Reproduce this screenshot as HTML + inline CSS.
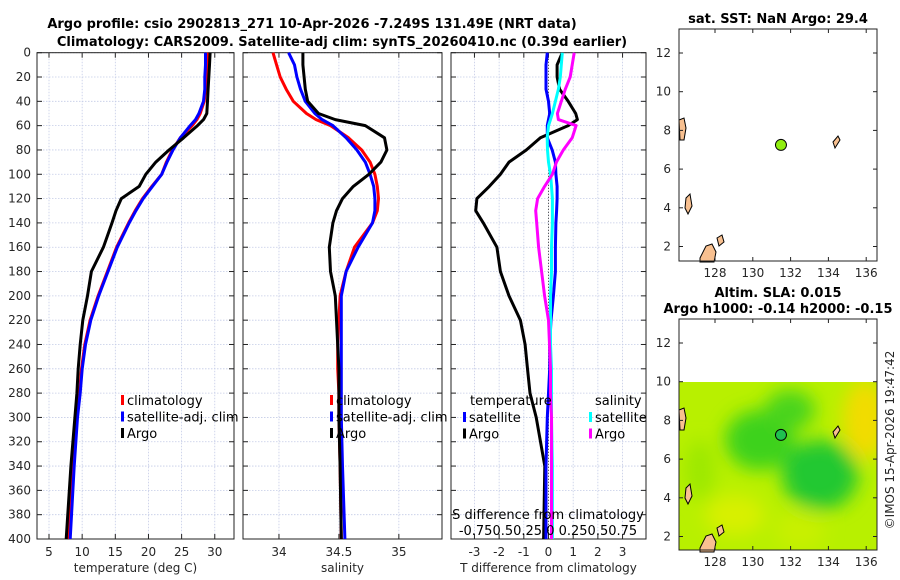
<!DOCTYPE html>
<html><head><meta charset="utf-8"><style>
html,body{margin:0;padding:0;background:#fff;}
svg{display:block;font-family:"DejaVu Sans","Liberation Sans",sans-serif;}
.tk{font-size:12px;fill:#262626;}
.tt{font-size:13px;font-weight:bold;fill:#000;}
.lg{font-size:13px;fill:#000;}
</style></head><body>
<svg id="fig" width="900" height="580" viewBox="0 0 900 580">
<defs>
<filter id="blur" x="-50%" y="-50%" width="200%" height="200%"><feGaussianBlur stdDeviation="9"/></filter>
<clipPath id="mapclip2"><rect x="679" y="382" width="198" height="168"/></clipPath>
</defs>
<text class="tt" x="312" y="28" text-anchor="middle">Argo profile: csio 2902813_271 10-Apr-2026 -7.249S 131.49E (NRT data)</text>
<text class="tt" x="342" y="46" text-anchor="middle">Climatology: CARS2009. Satellite-adj clim: synTS_20260410.nc (0.39d earlier)</text>
<g id="panels"></g>
<g id="maps"></g>
<text class="tk" transform="translate(894,440) rotate(-90)" text-anchor="middle">©IMOS 15-Apr-2026 19:47:42</text>
</svg>
<script>
const depths = [0,10,20,30,40,50,55,60,70,80,90,100,110,120,130,140,160,180,200,220,240,260,280,300,340,400];
const tempArgo = [29.3,29.2,29.1,29.0,28.9,28.8,28.3,27.4,25.3,23.1,21.1,19.6,18.6,15.9,15.1,14.5,13.2,11.4,10.8,10.1,9.7,9.4,9.2,8.9,8.3,7.6];
const tempClim = [28.9,28.8,28.7,28.6,28.4,27.8,27.3,26.6,24.8,23.6,22.7,22.0,20.5,19.1,18.0,17.0,15.2,13.8,12.4,11.2,10.4,9.9,9.6,9.2,8.6,8.0];
const tempSat = [28.6,28.6,28.5,28.5,28.3,27.6,27.1,26.3,24.8,23.7,22.8,22.0,20.6,19.2,18.1,17.1,15.3,13.9,12.5,11.3,10.5,10.0,9.7,9.3,8.8,8.2];
const salClim = [33.95,33.98,34.01,34.06,34.12,34.23,34.31,34.43,34.58,34.69,34.76,34.80,34.82,34.83,34.82,34.78,34.63,34.56,34.51,34.50,34.49,34.49,34.50,34.50,34.51,34.52];
const salSat = [34.08,34.13,34.15,34.18,34.22,34.30,34.36,34.45,34.56,34.65,34.72,34.76,34.79,34.80,34.80,34.78,34.66,34.56,34.52,34.52,34.52,34.52,34.52,34.52,34.53,34.55];
const salArgo = [34.2,34.2,34.21,34.22,34.24,34.33,34.47,34.72,34.88,34.9,34.85,34.75,34.62,34.53,34.48,34.45,34.42,34.43,34.47,34.48,34.49,34.5,34.5,34.5,34.51,34.52];
const dTArgo = [0.56,0.35,0.35,0.45,0.8,1.1,1.17,0.8,-0.33,-0.9,-1.6,-1.95,-2.4,-2.9,-2.95,-2.64,-2.09,-1.95,-1.6,-1.14,-0.95,-0.85,-0.75,-0.5,-0.15,-0.2];
const dTSat = [-0.05,-0.1,-0.1,-0.1,0.0,0.05,0.0,-0.05,-0.05,0.15,0.28,0.3,0.35,0.35,0.33,0.3,0.28,0.28,0.2,0.1,0.05,0.05,0.0,-0.05,-0.1,-0.1];
const dSSat = [0.14,0.13,0.12,0.1,0.07,0.04,0.02,0.0,-0.013,-0.01,0.0,0.02,0.03,0.04,0.04,0.04,0.03,0.03,0.02,0.02,0.02,0.03,0.03,0.03,0.04,0.04];
const dSArgo = [0.26,0.24,0.22,0.17,0.13,0.09,0.1,0.28,0.24,0.15,0.08,0.04,-0.04,-0.11,-0.13,-0.12,-0.1,-0.07,-0.04,0.0,0.01,0.02,0.02,0.03,0.03,0.03];
const depthTicks = [0,20,40,60,80,100,120,140,160,180,200,220,240,260,280,300,320,340,360,380,400];
const tempTicks = [5,10,15,20,25,30];
const salTicks = [34,34.5,35];
const dTTicks = [-3,-2,-1,0,1,2,3];
const latTicks = [2,4,6,8,10,12];
const lonTicks = [128,130,132,134,136];
const argoPos = [131.49, 7.249];

const NS='http://www.w3.org/2000/svg';
function mk(tag, attrs, parent, text){const e=document.createElementNS(NS,tag);for(const k in attrs)e.setAttribute(k,attrs[k]);if(text!==undefined)e.textContent=text;parent.appendChild(e);return e;}
const panels=document.getElementById('panels');
const Y0=52.7, Y1=539;
const yD=d=>Y0+(d/400)*(Y1-Y0);

function panel(name,x0,x1,vmin,vmax,xticks,xlab){
  const g=mk('g',{},panels);
  
  
  const sx=v=>x0+(v-vmin)/(vmax-vmin)*(x1-x0);
  xticks.forEach(v=>{
    const l=mk('line',{x1:sx(v),x2:sx(v),y1:Y0,y2:Y1,stroke:'#c4cbe6','stroke-width':0.8,'stroke-dasharray':'1.5,1.5'},g);
    
    
    mk('line',{x1:sx(v),x2:sx(v),y1:Y1,y2:Y1-5,stroke:'#222'},g);
    mk('line',{x1:sx(v),x2:sx(v),y1:Y0,y2:Y0+5,stroke:'#222'},g);
    const t=mk('text',{x:sx(v),y:556,'text-anchor':'middle',class:'tk'},g,String(v));
    
    
  });
  depthTicks.forEach(d=>{
    const l=mk('line',{x1:x0,x2:x1,y1:yD(d),y2:yD(d),stroke:'#c4cbe6','stroke-width':0.8,'stroke-dasharray':'1.5,1.5'},g);
    
    
    mk('line',{x1:x0,x2:x0+5,y1:yD(d),y2:yD(d),stroke:'#222'},g);
    mk('line',{x1:x1,x2:x1-5,y1:yD(d),y2:yD(d),stroke:'#222'},g);
    if(name==='temperature-panel'){
      const t=mk('text',{x:31,y:yD(d)+4,'text-anchor':'end',class:'tk'},g,String(d));
      
      
    }
  });
  const fr=mk('rect',{x:x0,y:Y0,width:x1-x0,height:Y1-Y0,fill:'none',stroke:'#222','stroke-width':1},g);
  
  
  if(xlab){const t=mk('text',{x:(x0+x1)/2,y:572,'text-anchor':'middle',class:'tk','font-size':'13'},g,xlab);
    
    }
  return {g,sx};
}
function line(p,sx,vals,color,name,w,dash){
  const pts=vals.map((v,i)=>sx(v).toFixed(1)+','+yD(depths[i]).toFixed(1)).join(' ');
  const a={points:pts,fill:'none',stroke:color,'stroke-width':w||3,'stroke-linejoin':'round'};
  if(dash)a['stroke-dasharray']=dash;
  const e=mk('polyline',a,p);
  
  
}
function legend(g,x,y,items){
  items.forEach((it,i)=>{
    mk('rect',{x:x,y:y+i*16.5-10,width:3,height:10,fill:it[0]},g);
    const t=mk('text',{x:x+6,y:y+i*16.5,class:'lg'},g,it[1]);
    
    
  });
}
const P1=panel('temperature-panel',37,234,3.19,32.9,tempTicks,'temperature (deg C)');
line(P1.g,P1.sx,tempClim,'#ff0000','temp-climatology-line');
line(P1.g,P1.sx,tempSat,'#0000ff','temp-satellite-line');
line(P1.g,P1.sx,tempArgo,'#000000','temp-argo-line');
legend(P1.g,121,405,[['#f00','climatology'],['#00f','satellite-adj. clim'],['#000','Argo']]);
const P2=panel('salinity-panel',243,442,33.7,35.36,salTicks,'salinity');
line(P2.g,P2.sx,salClim,'#ff0000','sal-climatology-line');
line(P2.g,P2.sx,salSat,'#0000ff','sal-satellite-line');
line(P2.g,P2.sx,salArgo,'#000000','sal-argo-line');
legend(P2.g,330,405,[['#f00','climatology'],['#00f','satellite-adj. clim'],['#000','Argo']]);
const P3=panel('difference-panel',451,646,-3.95,3.95,dTTicks,'T difference from climatology');
const sS=v=>P3.sx(v*4);
const zl=mk('line',{x1:P3.sx(0),x2:P3.sx(0),y1:Y0,y2:Y1,stroke:'#333','stroke-width':1,'stroke-dasharray':'1,2'},P3.g);


line(P3.g,P3.sx,dTArgo,'#000000','dT-argo-line');
line(P3.g,P3.sx,dTSat,'#0000ff','dT-satellite-line');
line(P3.g,sS,dSSat,'#00ffff','dS-satellite-line');
line(P3.g,sS,dSArgo,'#ff00ff','dS-argo-line');
let t=mk('text',{x:470,y:405,class:'lg'},P3.g,'temperature');


t=mk('text',{x:595,y:405,class:'lg'},P3.g,'salinity');


legend(P3.g,463,422,[['#00f','satellite'],['#000','Argo']]);
legend(P3.g,589,422,[['#0ff','satellite'],['#f0f','Argo']]);
t=mk('text',{x:548,y:519,'text-anchor':'middle',class:'lg'},P3.g,'S difference from climatology');


t=mk('text',{x:548,y:535,'text-anchor':'middle',class:'lg'},P3.g,'-0.750.50.25 0  0.250.50.75');



const maps=document.getElementById('maps');
const lonX=l=>715+(l-128)*18.9;
function islands(){
  return [
    'M679,120 L684,118 L686,128 L684,140 L680,140 Z',
    'M686,198 L690,194 L692,206 L688,214 L685,208 Z',
    'M700,258 L706,246 L712,244 L716,252 L714,262 L700,262 Z',
    'M717,238 L722,235 L724,242 L719,246 Z',
    'M833,142 L838,136 L840,140 L835,148 Z'];
}
function drawMap(name,lat12,title,titleY){
  const g=mk('g',{},maps);
  
  
  const latY=l=>lat12+(12-l)*19.35;
  title.forEach((s,i)=>{const t=mk('text',{x:778,y:titleY+i*16,'text-anchor':'middle',class:'tt'},g,s);
    
    });
  return {g,latY};
}
const M1=drawMap('sst-map',53,['sat. SST: NaN Argo: 29.4'],23);
const M2=drawMap('sla-map',343,['Altim. SLA: 0.015','Argo h1000: -0.14 h2000: -0.15'],297);
const fld=mk('g',{'clip-path':'url(#mapclip2)'},M2.g);


mk('rect',{x:679,y:382,width:198,height:168,fill:'#b8f000'},fld);
const bl=mk('g',{filter:'url(#blur)'},fld);
mk('ellipse',{cx:865,cy:420,rx:22,ry:40,fill:'#f2dc00'},bl);
mk('ellipse',{cx:760,cy:440,rx:35,ry:30,fill:'#3cd21e'},bl);
mk('ellipse',{cx:820,cy:475,rx:38,ry:35,fill:'#22c832'},bl);
mk('ellipse',{cx:790,cy:410,rx:25,ry:20,fill:'#4ad41e'},bl);
mk('ellipse',{cx:735,cy:515,rx:30,ry:20,fill:'#d8f000'},bl);
mk('ellipse',{cx:800,cy:530,rx:25,ry:20,fill:'#c8f000'},bl);
mk('ellipse',{cx:700,cy:470,rx:15,ry:30,fill:'#9ce800'},bl);
[[M1,0],[M2,290]].forEach(([M,off])=>{
  const g=M.g;
  islands().forEach(d=>{const p=mk('path',{d:d,fill:'#f8c090',stroke:'#000','stroke-width':1,transform:'translate(0,'+off+')'},g);
    
    });
  const y0=off?319:29, y1=off?550:261;
  lonTicks.forEach(l=>{
    mk('line',{x1:lonX(l),x2:lonX(l),y1:y1,y2:y1-4,stroke:'#222'},g);
    mk('line',{x1:lonX(l),x2:lonX(l),y1:y0,y2:y0+4,stroke:'#222'},g);
    const t=mk('text',{x:lonX(l),y:y1+16,'text-anchor':'middle',class:'tk'},g,String(l));
    
    
  });
  latTicks.forEach(l=>{
    const y=M.latY(l);
    mk('line',{x1:679,x2:683,y1:y,y2:y,stroke:'#222'},g);
    mk('line',{x1:877,x2:873,y1:y,y2:y,stroke:'#222'},g);
    const t=mk('text',{x:671,y:y+4,'text-anchor':'end',class:'tk'},g,String(l));
    
    
  });
  const fr=mk('rect',{x:679,y:y0,width:198,height:y1-y0,fill:'none',stroke:'#222'},g);
  
  
  const c=mk('circle',{cx:lonX(argoPos[0]),cy:M.latY(argoPos[1]),r:5.5,fill:off?'#20c050':'#90ee10',stroke:'#000','stroke-width':1},g);
  
  
});
</script>
</body></html>
